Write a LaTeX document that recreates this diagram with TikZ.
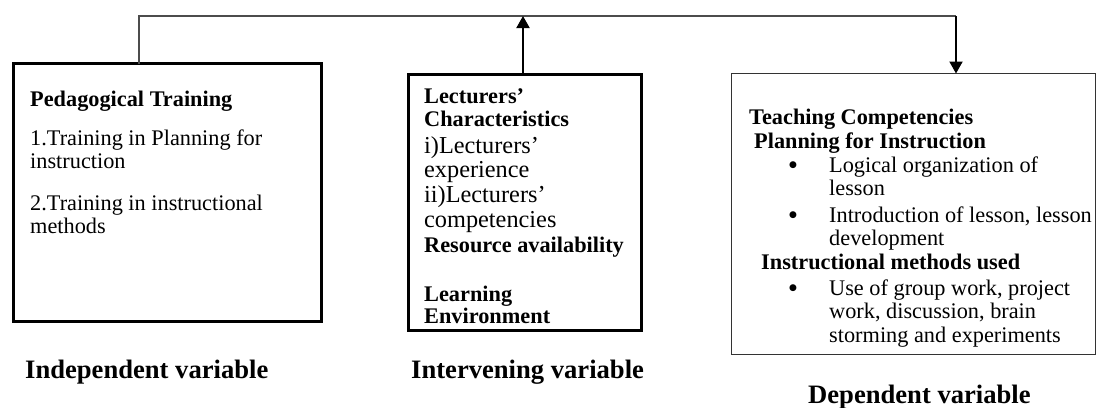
\documentclass[tikz,border=0pt]{standalone}
\usepackage{fontspec}
\setmainfont{Liberation Serif}
\newfontfamily\symfont{DejaVu Sans}
\usetikzlibrary{arrows.meta}
\begin{document}
\begin{tikzpicture}[x=1pt,y=-1pt,
  txt/.style={anchor=base west, inner sep=0pt, font=\fontsize{22.3}{26}\selectfont},
  btxt/.style={anchor=base west, inner sep=0pt, font=\fontsize{22.3}{26}\selectfont\bfseries},
  ltxt/.style={anchor=base west, inner sep=0pt, font=\fontsize{24.3}{26}\selectfont},
  lab/.style={anchor=base west, inner sep=0pt, font=\fontsize{26.6}{30}\selectfont\bfseries},
  bul/.style={anchor=base west, inner sep=0pt, font=\symfont\fontsize{9}{10}\selectfont},
  box/.style={draw, rectangle, inner sep=0pt, outer sep=0pt},
  conn/.style={draw=black!70, line width=1.2pt},
  arr/.style={draw=black, line width=2pt, -{Triangle[width=13pt,length=12pt]}}
]
\useasboundingbox (0,0) rectangle (1097,407);

% boxes
\node[box, line width=3.5pt, minimum width=308pt, minimum height=258pt] (box1) at (167.5,192.5) {};
\node[box, line width=3pt, minimum width=233pt, minimum height=256pt] (box2) at (525,202.5) {};
\node[box, draw=black!80, line width=1.2pt, minimum width=364pt, minimum height=281pt] (box3) at (913.5,214) {};

% connectors
\coordinate (c1) at (139,16);
\coordinate (c2) at (956,16);
\draw[conn] (box1.north -| c1) -- (c1) -- (c2);
\draw[arr] ([xshift=-2pt]box2.north) -- ([xshift=-2pt]box2.north |- c1);
\draw[arr] (c2) -- (c2 |- box3.north);

% box 1 text
\node[btxt] (t11) at (30,106) {Pedagogical Training};
\node[txt] (t12) at (30,145) {1.Training in Planning for};
\node[txt] (t13) at (30,168) {instruction};
\node[txt] (t14) at (30,210) {2.Training in instructional};
\node[txt] (t15) at (30,233) {methods};

% box 2 text
\node[btxt] (t21) at (424,103) {Lecturers’};
\node[btxt] (t22) at (424,126) {Characteristics};
\node[ltxt] (t23) at (424,153) {i)Lecturers’};
\node[ltxt] (t24) at (424,177) {experience};
\node[ltxt] (t25) at (424,202) {ii)Lecturers’};
\node[ltxt] (t26) at (424,227) {competencies};
\node[btxt] (t27) at (424,252) {Resource availability};
\node[btxt] (t28) at (424,301) {Learning};
\node[btxt] (t29) at (424,323) {Environment};

% box 3 text
\node[btxt] (t31) at (749,124) {Teaching Competencies};
\node[btxt] (t32) at (754,148) {Planning for Instruction};
\node[bul] (b1) at (789,167) {●};
\node[txt] (t33) at (829,172) {Logical organization of};
\node[txt] (t34) at (829,195) {lesson};
\node[bul] (b2) at (789,217) {●};
\node[txt] (t35) at (829,222) {Introduction of lesson, lesson};
\node[txt] (t36) at (829,245) {development};
\node[btxt] (t37) at (761,269) {Instructional methods used};
\node[bul] (b3) at (789,290) {●};
\node[txt] (t38) at (829,295) {Use of group work, project};
\node[txt] (t39) at (829,318) {work, discussion, brain};
\node[txt] (t310) at (829,342) {storming and experiments};

% labels
\node[lab] (l1) at (25,378) {Independent variable};
\node[lab] (l2) at (411,378) {Intervening variable};
\node[lab] (l3) at (808,403) {Dependent variable};
\end{tikzpicture}
\end{document}
